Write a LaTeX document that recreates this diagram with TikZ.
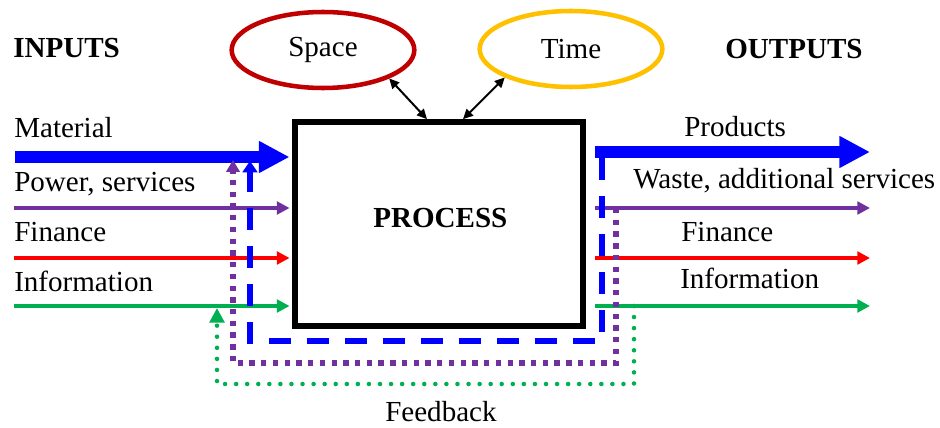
\documentclass[tikz,border=0pt]{standalone}
\usepackage{fontspec}
\setmainfont{Liberation Serif}
\usetikzlibrary{arrows.meta,shapes.geometric}

\definecolor{flowblue}{RGB}{0,0,255}
\definecolor{flowpurple}{RGB}{112,48,160}
\definecolor{flowred}{RGB}{255,0,0}
\definecolor{flowgreen}{RGB}{0,176,80}
\definecolor{spacered}{RGB}{192,0,0}
\definecolor{timegold}{RGB}{255,192,0}

\tikzset{
  txt/.style={anchor=base west, inner sep=0pt},
  heading/.style={txt, font=\fontsize{21.8}{26}\selectfont\bfseries},
  procbox/.style={draw=black, line width=4.2pt, minimum width=216pt, minimum height=153pt, inner sep=0pt},
  dimension/.style={ellipse, line width=3.4pt, minimum width=137pt, minimum height=57pt, inner sep=0pt},
  link/.style={line width=1.5pt, {Triangle[length=7.5pt,width=7pt]}-{Triangle[length=7.5pt,width=7pt]}},
  bigflow/.style={flowblue, line width=8.5pt, -{Triangle[length=23pt,width=22.5pt]}},
  thinflow/.style={line width=2.5pt, -{Triangle[length=9.5pt,width=9.5pt]}},
  fbblue/.style={flowblue, line width=4pt, dash pattern=on 16.5pt off 12pt,
    -{Triangle[length=8.5pt,width=11pt]}},
  fbpurple/.style={flowpurple, line width=4pt, dash pattern=on 4pt off 4.8pt,
    -{Triangle[length=9pt,width=10pt]}},
  fbgreen/.style={flowgreen, line width=3.4pt, line cap=round, dash pattern=on 0pt off 8.3pt,
    -{Triangle[length=11pt,width=11pt]}},
}

\begin{document}
\begin{tikzpicture}[x=0.75pt, y=-0.75pt, font=\fontsize{21.8}{26}\selectfont]
  \useasboundingbox (0,0) rectangle (940,428);

  % central process block
  \node[procbox] (proc) at (439,224) {};
  \node[heading] (proctext) at (373,228) {PROCESS};

  % space and time
  \node[dimension, draw=spacered] (space) at (323,50) {Space};
  \node[dimension, draw=timegold] (time) at (571,49) {Time};
  \draw[link] (space.south east) -- ([xshift=-9]proc.north);
  \draw[link] (time.south west) -- ([xshift=18]proc.north);

  % headings
  \node[heading] (inputs) at (13,58) {INPUTS};
  \node[heading] (outputs) at (725,59) {OUTPUTS};

  % input flows
  \coordinate (inMat) at (15,157);
  \coordinate (inPow) at (14,208);
  \coordinate (inFin) at (14,258);
  \coordinate (inInf) at (14,306);
  \node[txt] (lMat) at (14,137.5) {Material};
  \node[txt] (lPow) at (14,191.5) {Power, services};
  \node[txt] (lFin) at (14,241.5) {Finance};
  \node[txt] (lInf) at (14,291.5) {Information};
  \draw[bigflow] (inMat) -- ([xshift=-2]proc.west |- inMat);
  \draw[thinflow, flowpurple] (inPow) -- ([xshift=-2]proc.west |- inPow);
  \draw[thinflow, flowred] (inFin) -- ([xshift=-2]proc.west |- inFin);
  \draw[thinflow, flowgreen] (inInf) -- ([xshift=-2]proc.west |- inInf);

  % output flows
  \coordinate (outMat) at (870,152);
  \coordinate (outPow) at (870,208);
  \coordinate (outFin) at (870,258);
  \coordinate (outInf) at (870,306);
  \node[txt] (rMat) at (684,136.5) {Products};
  \node[txt] (rPow) at (633,188.5) {Waste, additional services};
  \node[txt] (rFin) at (681,241.5) {Finance};
  \node[txt] (rInf) at (680,288.5) {Information};
  \draw[bigflow] ([xshift=7]proc.east |- outMat) -- (outMat);
  \draw[thinflow, flowpurple] ([xshift=7]proc.east |- outPow) -- (outPow);
  \draw[thinflow, flowred] ([xshift=7]proc.east |- outFin) -- (outFin);
  \draw[thinflow, flowgreen] ([xshift=7]proc.east |- outInf) -- (outInf);

  % feedback loops
  \coordinate (fbBlueStart) at (602,158);
  \coordinate (fbBlueEnd) at (250,161);
  \coordinate (fbPurpStart) at (616,208);
  \coordinate (fbPurpEnd) at (233,160);
  \coordinate (fbGreenStart) at (634,306);
  \coordinate (fbGreenEnd) at (217,308);
  \draw[fbblue] (fbBlueStart) |- (250,341) -- (fbBlueEnd);
  \draw[fbpurple] (fbPurpStart) |- (233,363) -- (fbPurpEnd);
  \draw[fbgreen] (fbGreenStart) |- (217,384) -- (fbGreenEnd);
  \node[txt] (feedback) at (385,421) {Feedback};
\end{tikzpicture}
\end{document}
